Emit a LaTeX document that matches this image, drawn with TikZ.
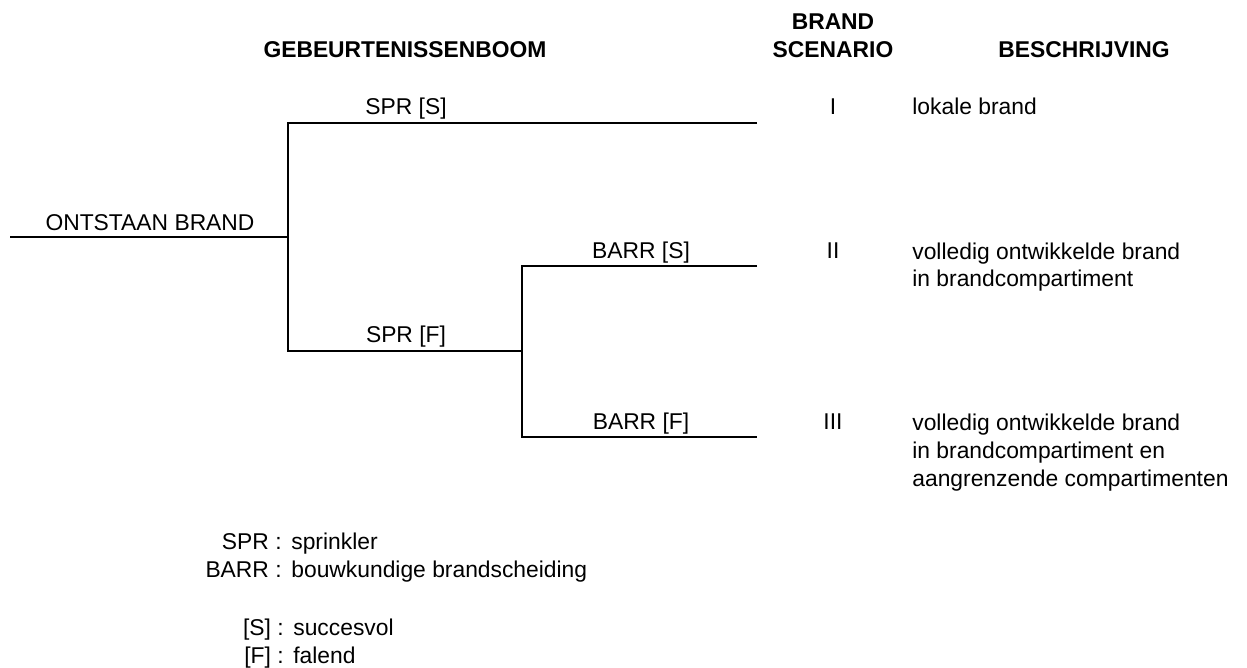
\documentclass[tikz,border=0pt]{standalone}
\usepackage{fontspec}
\setmainfont{Liberation Sans}
\usepackage{tikz}

\begin{document}
\begin{tikzpicture}
                [
                x=0.02cm,y=-0.02cm,
                every node/.style={inner sep=0pt,font=\fontsize{13}{15.9}\selectfont},
                head/.style={anchor=base,font=\fontsize{13}{15.9}\selectfont\bfseries},
                lbl/.style={anchor=base},
                desc/.style={anchor=base west,align=left},
                branch/.style={line width=1.6pt,line join=miter}
                ]
            \useasboundingbox (0,0) rectangle (1247,668);
            % kopjes
            \node[head] (h1) at (405,58) {GEBEURTENISSENBOOM};
            \node[head] (h2) at (833,30) {BRAND};
            \node[head] (h3) at (833,58) {SCENARIO};
            \node[head] (h4) at (1084,58) {BESCHRIJVING};
            % boom
            \coordinate (start) at (10,237);
            \coordinate (j1) at (288,237);
            \coordinate (j1s) at (288,123);
            \coordinate (j1f) at (288,351);
            \coordinate (j2) at (522,351);
            \coordinate (j2s) at (522,266);
            \coordinate (j2f) at (522,437);
            \coordinate (eI) at (757,123);
            \coordinate (eII) at (757,266);
            \coordinate (eIII) at (757,437);
            \draw[branch] (start) -- (j1);
            \draw[branch] (eI) -- (j1s) -- (j1f) -- (j2);
            \draw[branch] (eII) -- (j2s) -- (j2f) -- (eIII);
            \node[lbl] (ob) at (150,231) {ONTSTAAN BRAND};
            \node[lbl] (sprs) at (406,115) {SPR [S]};
            \node[lbl] (sprf) at (406,343) {SPR [F]};
            \node[lbl] (barrs) at (641,259) {BARR [S]};
            \node[lbl] (barrf) at (641,430) {BARR [F]};
            % scenario's (desc: basislijn van de laatste regel)
            \node[lbl] (s1) at (833,115) {I};
            \node[lbl] (s2) at (833,259) {II};
            \node[lbl] (s3) at (833,430) {III};
            \node[desc] (d1) at (912,115) {lokale brand};
            \node[desc] (d2) at (912,287) {volledig ontwikkelde brand\\in brandcompartiment};
            \node[desc] (d3) at (912,486) {volledig ontwikkelde brand\\in brandcompartiment en\\aangrenzende compartimenten};
            % legenda
            \node[anchor=base east] (k1) at (282,549) {SPR :};
            \node[anchor=base west] (v1) at (291,549) {sprinkler};
            \node[anchor=base east] (k2) at (282,577) {BARR :};
            \node[anchor=base west] (v2) at (291,577) {bouwkundige brandscheiding};
            \node[anchor=base east] (k3) at (284,635) {[S] :};
            \node[anchor=base west] (v3) at (293,635) {succesvol};
            \node[anchor=base east] (k4) at (284,663) {[F] :};
            \node[anchor=base west] (v4) at (293,663) {falend};
\end{tikzpicture}
\end{document}
